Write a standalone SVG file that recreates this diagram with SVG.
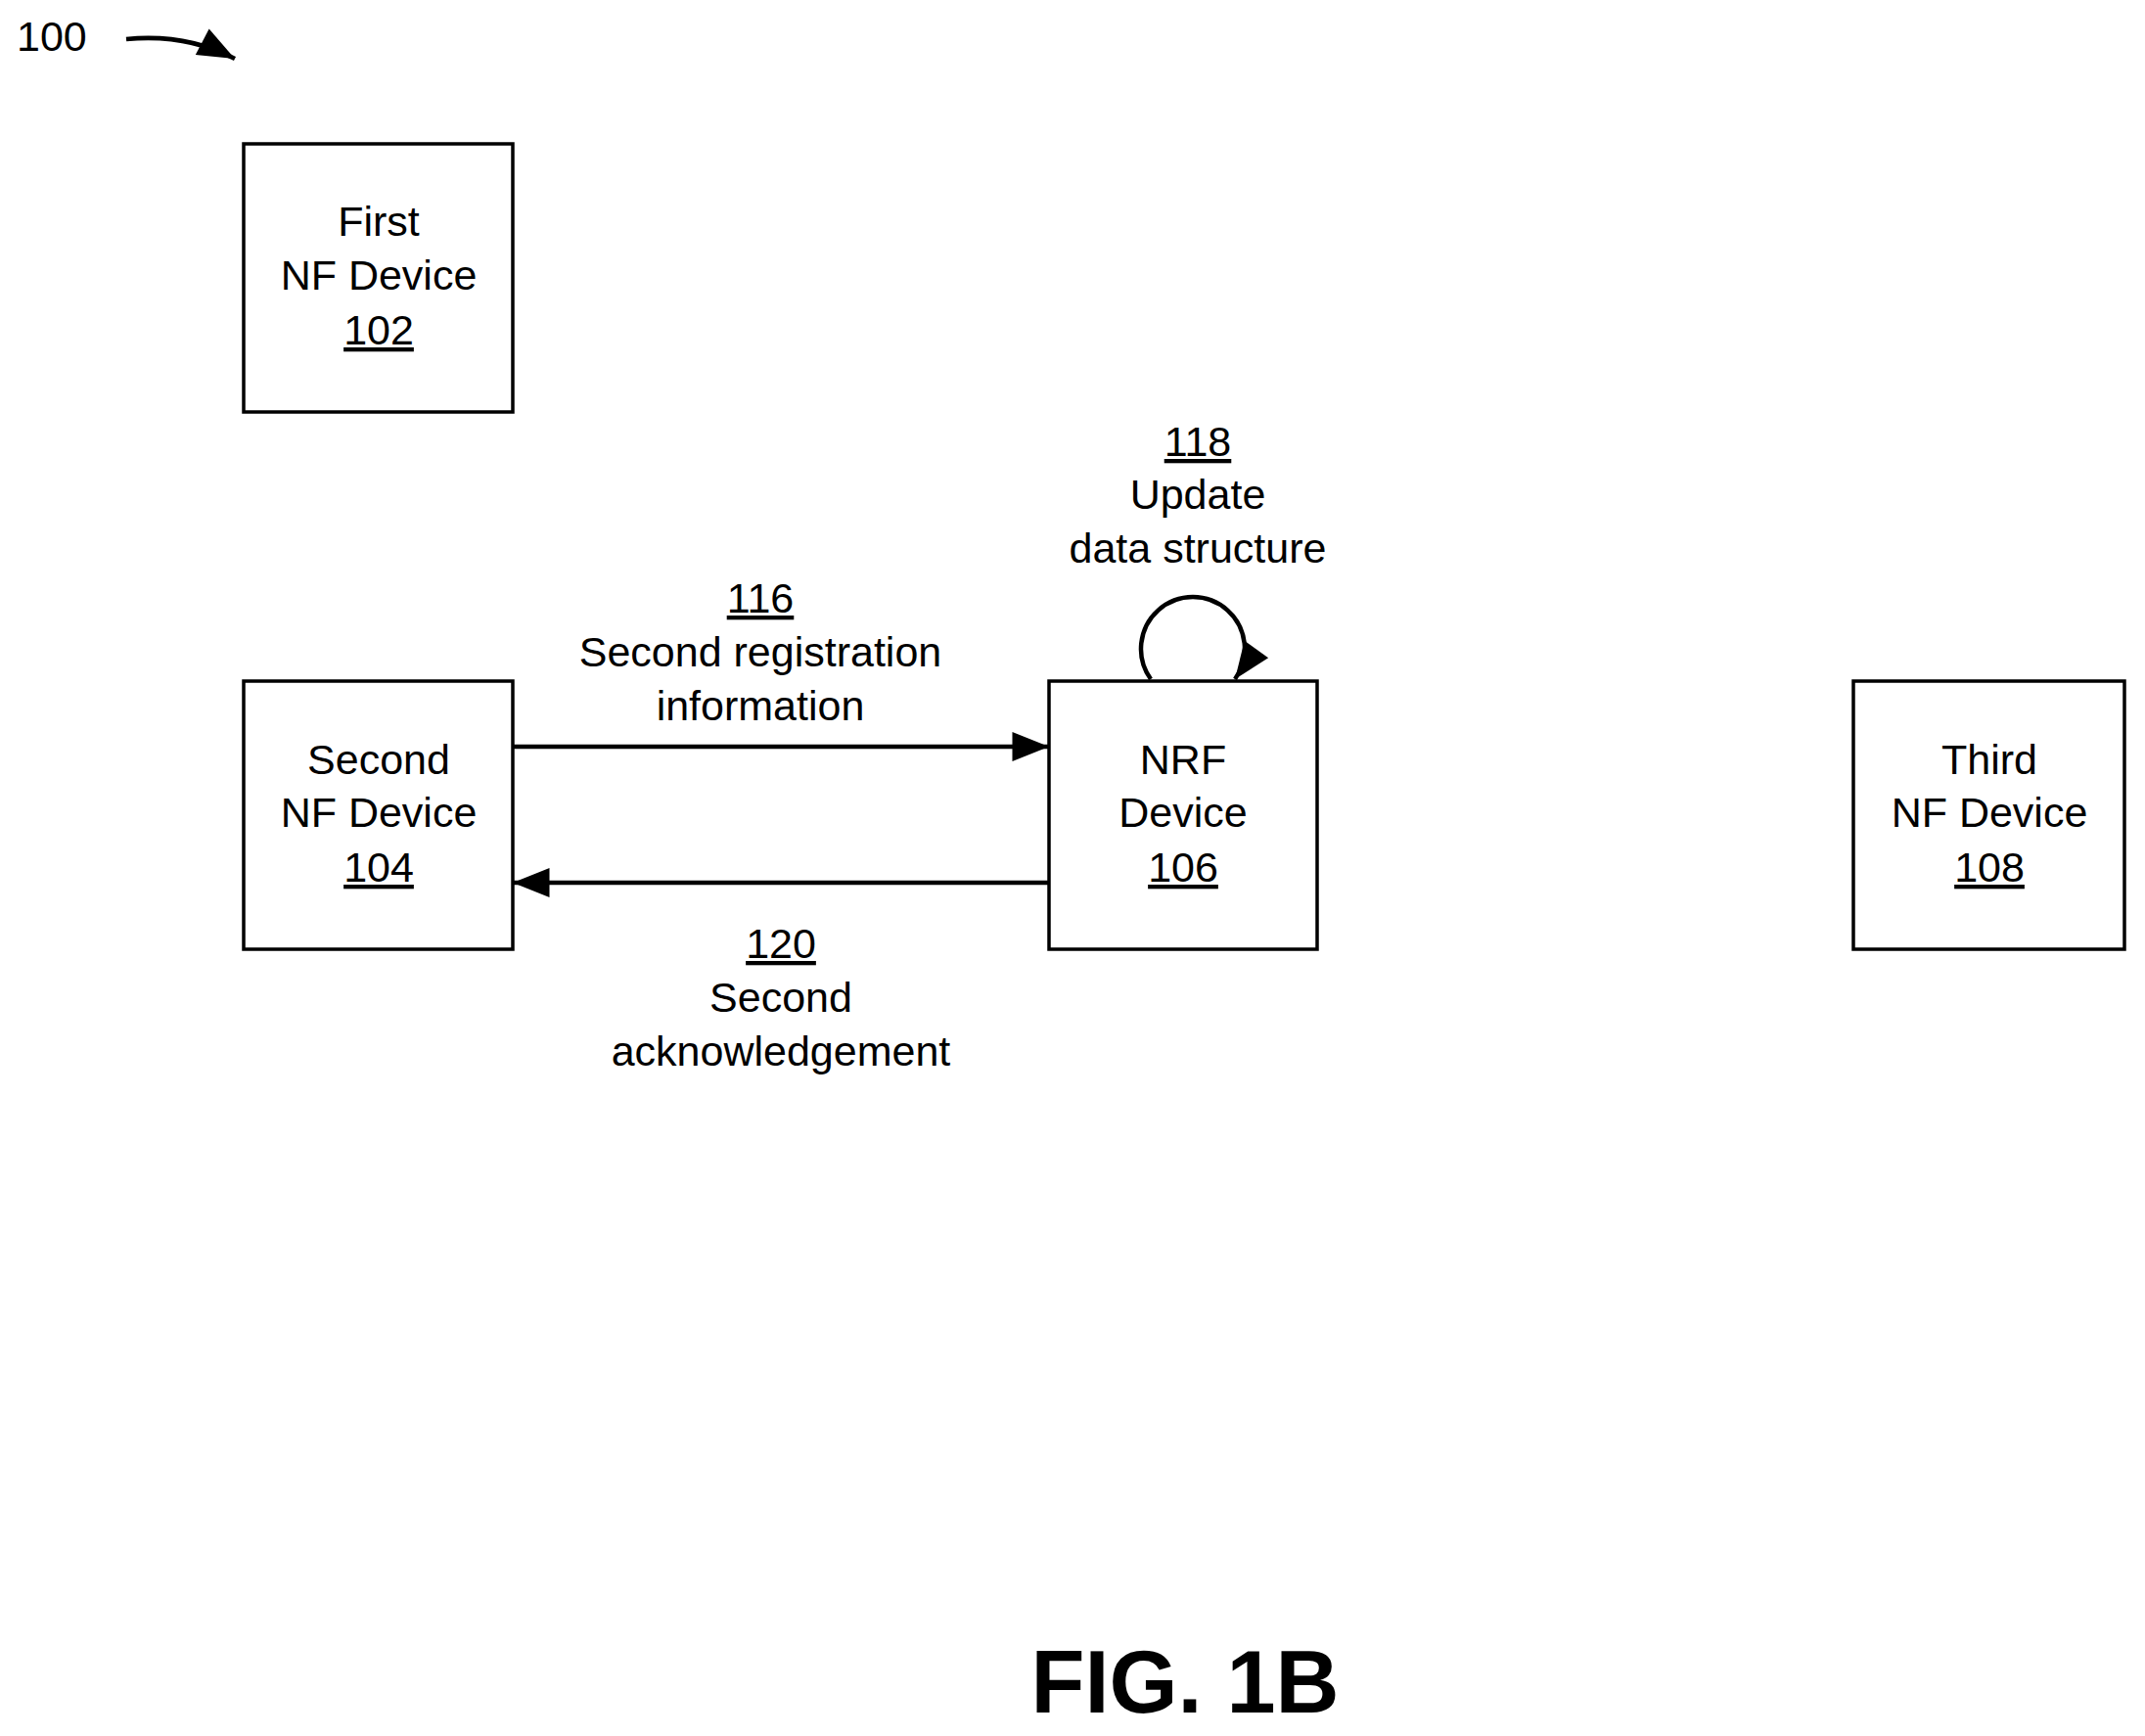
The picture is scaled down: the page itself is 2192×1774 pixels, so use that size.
<svg xmlns="http://www.w3.org/2000/svg" width="2192" height="1774" viewBox="0 0 2192 1774">
<style>
.b{fill:#fff;stroke:#000;stroke-width:3.5}
text{font-family:"Liberation Sans",Arial,sans-serif;font-size:43px;fill:#000;text-anchor:middle}
.c{fill:none;stroke:#000;stroke-width:4.5}
</style>
<defs><marker id="a" markerWidth="12" markerHeight="10" refX="11" refY="5" orient="auto" markerUnits="userSpaceOnUse" viewBox="0 0 12 10"><path d="M0,0L12,5L0,10z"/></marker>
<marker id="m" viewBox="0 0 10 8" refX="10" refY="4" markerWidth="44" markerHeight="30" orient="auto" markerUnits="userSpaceOnUse"><path d="M0,0L10,4L0,8z"/></marker></defs>
<rect width="2192" height="1774" fill="#fff"/>
<text x="17" y="52" style="text-anchor:start">100</text>
<g id="connectors">
<path class="c" d="M129,40 Q190,34 240,60" marker-end="url(#m)"/>
<line class="c" x1="524" y1="763" x2="1072" y2="763" marker-end="url(#m)"/>
<line class="c" x1="1072" y1="902" x2="524" y2="902" marker-end="url(#m)"/>
<path class="c" d="M1176,694 A53,53 0 1 1 1262,694" marker-end="url(#m)"/>
</g>
<g id="n102"><rect class="b" x="249" y="147" width="275" height="274"/><text x="387" y="241">First</text><text x="387" y="296">NF Device</text><text x="387" y="352" text-decoration="underline">102</text></g>
<g id="n104"><rect class="b" x="249" y="696" width="275" height="274"/><text x="387" y="791">Second</text><text x="387" y="845">NF Device</text><text x="387" y="901" text-decoration="underline">104</text></g>
<g id="n106"><rect class="b" x="1072" y="696" width="274" height="274"/><text x="1209" y="791">NRF</text><text x="1209" y="845">Device</text><text x="1209" y="901" text-decoration="underline">106</text></g>
<g id="n108"><rect class="b" x="1894" y="696" width="277" height="274"/><text x="2033" y="791">Third</text><text x="2033" y="845">NF Device</text><text x="2033" y="901" text-decoration="underline">108</text></g>
<g id="labels">
<text x="777" y="626" text-decoration="underline">116</text><text x="777" y="681">Second registration</text><text x="777" y="736">information</text>
<text x="1224" y="466" text-decoration="underline">118</text><text x="1224" y="520">Update</text><text x="1224" y="575">data structure</text>
<text x="798" y="979" text-decoration="underline">120</text><text x="798" y="1034">Second</text><text x="798" y="1089">acknowledgement</text>
<text x="1211" y="1750" style="font-size:90px;font-weight:bold">FIG. 1B</text>
</g>
</svg>
